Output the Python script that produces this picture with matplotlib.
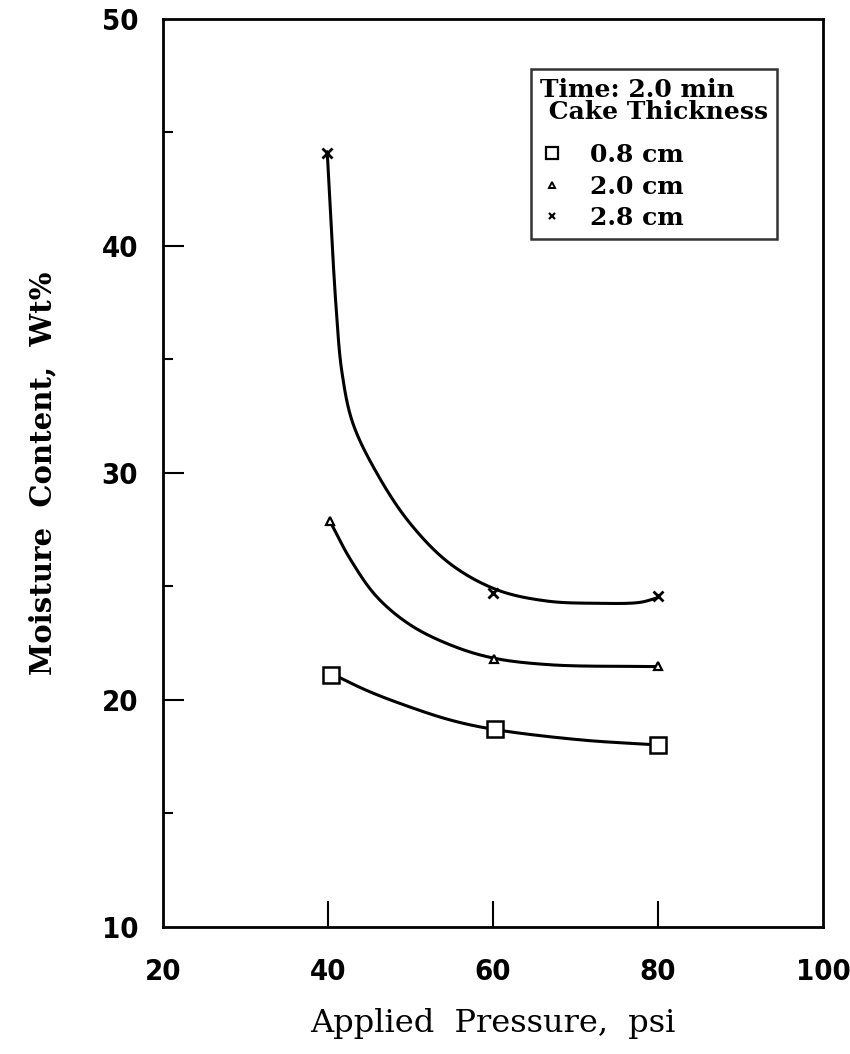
import numpy as np
import matplotlib
matplotlib.use("Agg")
import matplotlib.pyplot as plt
from matplotlib.lines import Line2D
from matplotlib.ticker import MultipleLocator

# Measured points: moisture content (wt%) vs applied pressure (psi), 2.0 min
pressure_08 = [40.4, 60.2, 80.0]
moisture_08 = [21.1, 18.7, 18.0]
pressure_20 = [40.2, 60.1, 80.0]
moisture_20 = [27.9, 21.8, 21.5]
pressure_28 = [39.9, 60.0, 80.0]
moisture_28 = [44.1, 24.7, 24.6]

# Hand-fitted trend curves through the data (knots along each curve)
fit_x_08 = [40.5, 44.5, 48.7, 54.8, 60.2, 70.7, 80.0]
fit_y_08 = [21.15, 20.45, 19.85, 19.12, 18.7, 18.24, 18.02]
fit_x_20 = [40.2, 42.7, 45.9, 50.0, 55.0, 60.0, 67.0, 80.0]
fit_y_20 = [27.9, 26.2, 24.55, 23.3, 22.4, 21.85, 21.55, 21.47]
fit_x_28 = [39.9, 40.97, 41.7, 43.0, 45.9, 49.9, 54.8, 60.5, 66.5, 72.6, 77.8, 79.9]
fit_y_28 = [44.15, 37.33, 34.4, 32.2, 30.0, 27.8, 26.0, 24.85, 24.36, 24.26, 24.3, 24.5]

labels = ["0.8 cm", "2.0 cm", "2.8 cm"]


def smooth(xs, ys, sx=8.25, sy=22.7, n=30):
    # centripetal Catmull-Rom through the knots, done in roughly pixel units
    P = np.column_stack([np.asarray(xs) * sx, np.asarray(ys) * sy])
    P = np.vstack([2 * P[0] - P[1], P, 2 * P[-1] - P[-2]])
    out = []
    for i in range(1, len(P) - 2):
        p0, p1, p2, p3 = P[i - 1], P[i], P[i + 1], P[i + 2]
        t0 = 0.0
        t1 = t0 + np.linalg.norm(p1 - p0) ** 0.5
        t2 = t1 + np.linalg.norm(p2 - p1) ** 0.5
        t3 = t2 + np.linalg.norm(p3 - p2) ** 0.5
        t = np.linspace(t1, t2, n)[:, None]
        a1 = (t1 - t) / (t1 - t0) * p0 + (t - t0) / (t1 - t0) * p1
        a2 = (t2 - t) / (t2 - t1) * p1 + (t - t1) / (t2 - t1) * p2
        a3 = (t3 - t) / (t3 - t2) * p2 + (t - t2) / (t3 - t2) * p3
        b1 = (t2 - t) / (t2 - t0) * a1 + (t - t0) / (t2 - t0) * a2
        b2 = (t3 - t) / (t3 - t1) * a2 + (t - t1) / (t3 - t1) * a3
        c = (t2 - t) / (t2 - t1) * b1 + (t - t1) / (t2 - t1) * b2
        out.append(c)
    out = np.vstack(out)
    return out[:, 0] / sx, out[:, 1] / sy


fig = plt.figure(figsize=(8.5, 10.54), dpi=100)
ax = fig.add_axes([0.1918, 0.1205, 0.7765, 0.8615])

for fx, fy in [(fit_x_08, fit_y_08), (fit_x_20, fit_y_20), (fit_x_28, fit_y_28)]:
    cx, cy = smooth(fx, fy)
    ax.plot(cx, cy, color="black", lw=2.2, solid_capstyle="round")

ax.plot(pressure_08, moisture_08, ls="none", marker="s", ms=12, mfc="white",
        mec="black", mew=1.8)
ax.plot(pressure_20, moisture_20, ls="none", marker="^", ms=6, mfc="white",
        mec="black", mew=1.6)
ax.plot(pressure_28, moisture_28, ls="none", marker="x", ms=7, color="black",
        mew=2.0)

ax.set_xlim(20, 100)
ax.set_ylim(10, 50)
ax.set_xticks([20, 40, 60, 80, 100])
ax.set_yticks([10, 20, 30, 40, 50])
ax.yaxis.set_minor_locator(MultipleLocator(5))

for s in ax.spines.values():
    s.set_linewidth(2.0)

ax.tick_params(axis="x", which="major", direction="in", length=19, width=1.5,
               pad=22, top=False)
ax.tick_params(axis="y", which="major", direction="in", length=15, width=1.5,
               pad=18, right=False)
ax.tick_params(axis="y", which="minor", direction="in", length=7, width=1.5,
               right=False)
ax.tick_params(axis="x", which="minor", bottom=False)
# end ticks sit on the frame corners, hide those marks
xt = ax.xaxis.get_major_ticks()
xt[0].tick1line.set_visible(False)
xt[-1].tick1line.set_visible(False)
yt = ax.yaxis.get_major_ticks()
yt[0].tick1line.set_visible(False)
yt[-1].tick1line.set_visible(False)

for lab in ax.get_xticklabels() + ax.get_yticklabels():
    lab.set_fontfamily(["Liberation Sans Narrow", "DejaVu Sans"])
    lab.set_fontstretch("condensed")
    lab.set_fontweight("bold")
    lab.set_fontsize(21)

ax.set_xlabel("Applied  Pressure,  psi", family="DejaVu Serif", size=23,
              labelpad=16)
ax.set_ylabel("Moisture  Content,  Wt%", family="DejaVu Serif", weight="bold",
              size=21, labelpad=32)

handles = [
    Line2D([], [], ls="none", marker="s", ms=9, mfc="white", mec="black", mew=1.6),
    Line2D([], [], ls="none", marker="^", ms=5, mfc="white", mec="black", mew=1.4),
    Line2D([], [], ls="none", marker="x", ms=5, color="black", mew=1.6),
]
leg_font = {"family": "DejaVu Serif", "weight": "bold", "size": 18}
leg = ax.legend(handles, labels, title="Time: 2.0 min\n Cake Thickness",
                loc="upper right", bbox_to_anchor=(0.930, 0.945),
                prop=leg_font, title_fontproperties=leg_font,
                alignment="left", frameon=True, fancybox=False, shadow=False,
                borderpad=0.35, labelspacing=0.3, handlelength=1.0,
                handletextpad=1.0, borderaxespad=0)
leg.get_title().set_linespacing(0.9)
leg._legend_box.sep = 14
leg.get_frame().set_edgecolor("black")
leg.get_frame().set_linewidth(1.8)

fig.savefig("out.png", dpi=100)
